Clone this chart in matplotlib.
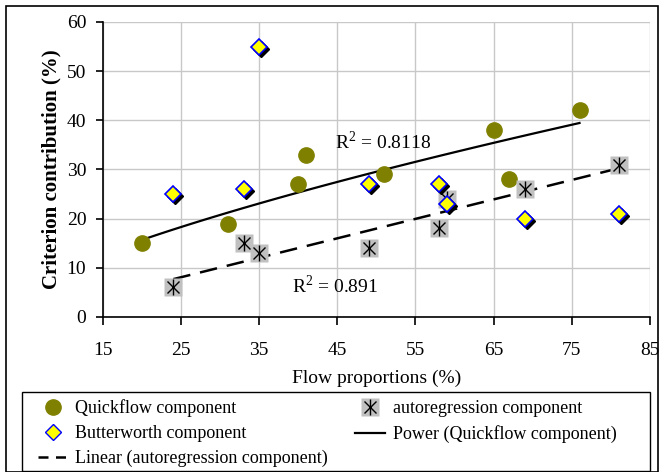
import numpy as np
import matplotlib.pyplot as plt
from matplotlib import transforms
from matplotlib.lines import Line2D
from matplotlib.patches import Rectangle

plt.rcParams['font.family'] = ['Liberation Serif', 'DejaVu Serif']
plt.rcParams['mathtext.fontset'] = 'custom'
plt.rcParams['mathtext.rm'] = 'Liberation Serif'

# flow proportions (%) and criterion contribution (%)
quick_x = [20, 31, 40, 41, 51, 65, 67, 76]
quick_y = [15, 19, 27, 33, 29, 38, 28, 42]
butter_x = [24, 33, 35, 49, 58, 59, 69, 81]
butter_y = [25, 26, 55, 27, 27, 23, 20, 21]
auto_x = [24, 33, 35, 49, 58, 59, 69, 81]
auto_y = [6, 15, 13, 14, 18, 24, 26, 31]

x_ticks = [15, 25, 35, 45, 55, 65, 75, 85]
y_ticks = [0, 10, 20, 30, 40, 50, 60]

fig = plt.figure(figsize=(6.62, 4.72), dpi=100)
ax = fig.add_axes([0.1556, 0.3284, 0.826, 0.625])

# trend lines
b, a = np.polyfit(np.log(quick_x), np.log(quick_y), 1)
px = np.linspace(min(quick_x), max(quick_x), 100)
ax.plot(px, np.exp(a) * px ** b, color='black', lw=1.6, zorder=3)

m, c = np.polyfit(auto_x, auto_y, 1)
lx = np.array([min(auto_x), max(auto_x)])
ax.plot(lx, m * lx + c, color='black', lw=1.8, ls=(0, (7, 4)), zorder=3)

# quickflow
ax.plot(quick_x, quick_y, 'o', color='#808000', ms=11, mec='#808000', zorder=4)

# autoregression: grey square with asterisk
ax.plot(auto_x, auto_y, 's', color='#c0c0c0', ms=13, mec='none', zorder=4)
ax.plot(auto_x, auto_y, 'x', color='black', ms=9, mew=1.0, zorder=5)
ax.plot(auto_x, auto_y, '|', color='black', ms=11, mew=1.0, zorder=5)

# butterworth: diamond with drop shadow
shadow = transforms.offset_copy(ax.transData, fig=fig, x=1.5, y=-1.5, units='points')
ax.plot(butter_x, butter_y, 'D', color='black', ms=8, mec='black', transform=shadow, zorder=6)
ax.plot(butter_x, butter_y, 'D', color='#ffff00', ms=8, mec='#0000ff', mew=1.2, zorder=7)

ax.text(44.7, 35.6, r'R$^2$ = 0.8118', fontsize=14, va='center', zorder=8)
ax.text(39.2, 6.3, r'R$^2$ = 0.891', fontsize=14, va='center', zorder=8)

ax.set_xlim(15, 85)
ax.set_ylim(0, 60)
ax.set_xticks(x_ticks)
ax.set_yticks(y_ticks)
ax.grid(True, color='#c8c8c8', lw=1)
ax.set_axisbelow(True)
for s in ['top', 'right']:
    ax.spines[s].set_visible(False)
ax.spines['left'].set_linewidth(1.2)
ax.spines['bottom'].set_linewidth(1.2)
ax.tick_params(axis='x', direction='out', length=6, width=1.2, pad=12, labelsize=14)
ax.tick_params(axis='y', direction='out', length=5, width=1.2, pad=7, labelsize=14)

ax.set_xlabel('Flow proportions (%)', fontsize=14, labelpad=8)
ax.set_ylabel('Criterion contribution (%)', fontsize=15, fontweight='bold', labelpad=4)

handles = [
    Line2D([], [], ls='none', marker='o', color='#808000', ms=11),
    Line2D([], [], ls='none', marker='D', color='#ffff00', mec='#0000ff', ms=8),
    Line2D([], [], color='black', lw=1.8, ls=(0, (4, 3))),
    (Line2D([], [], ls='none', marker='s', color='#c0c0c0', mec='none', ms=13),
     Line2D([], [], ls='none', marker='x', color='black', ms=9),
     Line2D([], [], ls='none', marker='|', color='black', ms=11)),
    Line2D([], [], color='black', lw=1.6),
]
labels = ['Quickflow component', 'Butterworth component',
          'Linear (autoregression component)', 'autoregression component',
          'Power (Quickflow component)']
fig.legend(handles, labels, ncol=2, loc='upper left',
           bbox_to_anchor=(38 / 662, 1 - 399 / 472),
           fontsize=13, frameon=False, borderaxespad=0, borderpad=0,
           handlelength=1.67, handletextpad=0.4, labelspacing=0.45,
           columnspacing=1.5)

# legend box and outer border
fig.patches.append(Rectangle((22 / 662, 1 / 472), 628 / 662, 79 / 472,
                             transform=fig.transFigure, fill=False,
                             edgecolor='black', lw=1.0))
fig.patches.append(Rectangle((6 / 662, 0.5 / 472), 652 / 662, 466 / 472,
                             transform=fig.transFigure, fill=False,
                             edgecolor='black', lw=1.2))

fig.savefig('out.png', dpi=100)
